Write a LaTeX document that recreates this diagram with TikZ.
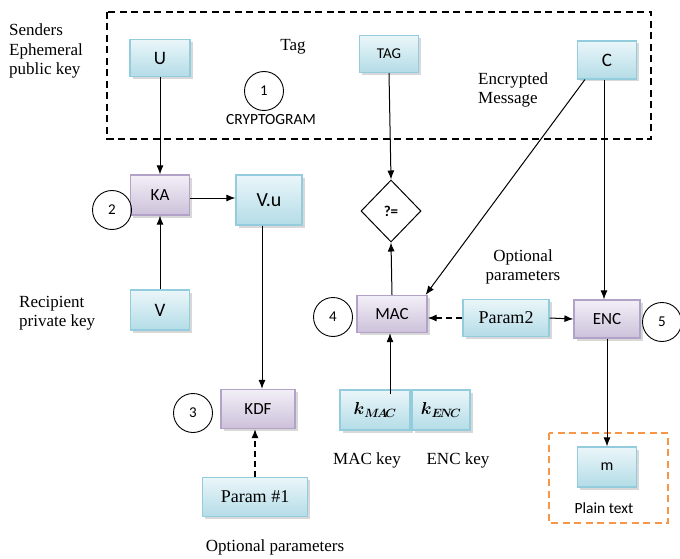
\documentclass[tikz,border=0pt]{standalone}
\usepackage{amsmath}
\usepackage{fontspec}
\setmainfont{Liberation Serif}
\newfontfamily\boxfont{Carlito}
\usetikzlibrary{arrows.meta,shapes.geometric,shadows,calc}
\definecolor{bluetop}{HTML}{EAF6F9}
\definecolor{bluebot}{HTML}{B4DCE7}
\definecolor{blueline}{HTML}{93CDDD}
\definecolor{purtop}{HTML}{F3EFF7}
\definecolor{purbot}{HTML}{CCC1DA}
\definecolor{purline}{HTML}{B3A2C7}
\definecolor{orangeline}{HTML}{F79646}
\tikzset{
  bbox/.style={draw=blueline, line width=1.2pt, top color=bluetop, bottom color=bluebot,
    drop shadow={shadow xshift=2.5pt, shadow yshift=-2.5pt, fill=black!30},
    font=\boxfont\fontsize{17}{19}\selectfont, inner sep=0pt},
  pbox/.style={draw=purline, line width=1.2pt, top color=purtop, bottom color=purbot,
    drop shadow={shadow xshift=2.5pt, shadow yshift=-2.5pt, fill=black!30},
    font=\boxfont\fontsize{17}{19}\selectfont, inner sep=0pt},
  num/.style={draw, circle, line width=0.9pt, minimum size=39pt, inner sep=0pt,
    font=\boxfont\fontsize{15}{17}\selectfont},
  lbl/.style={font=\fontsize{17}{19.5}\selectfont, inner sep=0pt},
  slbl/.style={font=\boxfont\fontsize{15.5}{18}\selectfont, inner sep=0pt},
  arr/.style={line width=1pt, -{Latex[length=9pt,width=7pt]}},
  darr/.style={line width=1.2pt, dash pattern=on 6pt off 4pt, -{Latex[length=9pt,width=7pt]}},
}
\begin{document}
\begin{tikzpicture}[x=1pt,y=-1pt]
\useasboundingbox (0,0) rectangle (680,559);
% dashed boxes
\draw[line width=1.4pt, dash pattern=on 7pt off 4.5pt] (107,12) rectangle (651,139);
\draw[orangeline, line width=1.4pt, dash pattern=on 7pt off 4.5pt] (549,433) rectangle (668,523);
% boxes
\node[bbox, minimum width=60pt, minimum height=37pt, font=\boxfont\fontsize{19}{21}\selectfont] (U) at (160,58) {U};
\node[bbox, minimum width=59pt, minimum height=37pt, font=\boxfont\fontsize{15}{17}\selectfont] (TAG) at (389,54) {TAG};
\node[bbox, minimum width=59pt, minimum height=38pt, font=\boxfont\fontsize{19}{21}\selectfont] (C) at (607,60) {C};
\node[pbox, minimum width=59pt, minimum height=40pt] (KA) at (160,195) {KA};
\node[bbox, minimum width=66pt, minimum height=50pt, font=\boxfont\fontsize{20}{22}\selectfont] (Vu) at (269,200) {V.u};
\node[bbox, minimum width=59pt, minimum height=40pt, font=\boxfont\fontsize{19}{21}\selectfont] (V) at (160,310) {V};
\node[draw, diamond, line width=1pt, minimum width=60pt, minimum height=62pt, inner sep=0pt,
  font=\boxfont\bfseries\fontsize{15}{17}\selectfont] (EQ) at (391,211) {?=};
\node[pbox, minimum width=70pt, minimum height=37pt] (MAC) at (392,314) {MAC};
\node[bbox, minimum width=86pt, minimum height=37pt, font=\fontsize{18}{20}\selectfont] (P2) at (506,318) {Param2};
\node[pbox, minimum width=66pt, minimum height=38pt] (ENC) at (607,319) {ENC};
\node[pbox, minimum width=74pt, minimum height=39pt] (KDF) at (258,409) {KDF};
\node[bbox, minimum width=70pt, minimum height=40pt, font=\fontsize{17}{19}\selectfont] (KM) at (375,410) {$\boldsymbol{k}_{\boldsymbol{M\!A\!C}}$};
\node[bbox, minimum width=58pt, minimum height=40pt, font=\fontsize{17}{19}\selectfont] (KE) at (441,410) {$\boldsymbol{k}_{\boldsymbol{E\!N\!C}}$};
\node[bbox, minimum width=105pt, minimum height=39pt, font=\fontsize{18}{20}\selectfont] (P1) at (255,497) {Param \#1};
\node[bbox, minimum width=59pt, minimum height=40pt, font=\boxfont\fontsize{16}{18}\selectfont] (M) at (607,467) {m};
% numbered circles
\node[num] (n1) at (264,91) {1};
\node[num] (n2) at (112,210) {2};
\node[num] (n3) at (193,413) {3};
\node[num] (n4) at (333,317) {4};
\node[num] (n5) at (662,322) {5};
% labels
\node[lbl, align=left, anchor=north west] (ls) at (9,24) {Senders\\Ephemeral\\public key};
\node[lbl] (ltag) at (293,47) {Tag};
\node[slbl] (lcr) at (271,120) {CRYPTOGRAM};
\node[lbl, align=left, anchor=west] (lenc) at (478,90) {Encrypted\\Message};
\node[lbl, align=left, anchor=west] (lrec) at (19,313) {Recipient\\private key};
\node[lbl, align=center] (lopt2) at (523,267) {Optional\\parameters};
\node[lbl] (lmk) at (367,460) {MAC key};
\node[lbl] (lek) at (458,460) {ENC key};
\node[lbl] (lopt1) at (275,547) {Optional parameters};
\node[slbl] (lpt) at (604,508) {Plain text};
% connectors
\draw[arr] (U.south) -- (KA.north);
\draw[arr] ([yshift=-3pt]KA.east) -- ([yshift=-3pt]KA.east -| Vu.west);
\draw[arr] (V.north) -- (KA.south);
\draw[arr] ([xshift=-7pt]Vu.south) -- ([xshift=-7pt]Vu.south |- KDF.north);
\draw[darr] (P1.north) -- (P1.north |- KDF.south);
\draw[arr] (TAG.south) -- (EQ.north);
\draw[arr] (MAC.north) -- (EQ.south);
\coordinate (kstart) at ($(KM.north -| MAC.south)+(-2,5)$);
\draw[arr] (kstart) -- (kstart |- MAC.south);
\draw[arr] ([xshift=8pt]C.south west) -- ([xshift=-2pt]MAC.north east);
\draw[arr] ([xshift=-3pt]C.south) -- ([xshift=-3pt]C.south |- ENC.north);
\draw[darr] (P2.west) -- (P2.west -| MAC.east);
\draw[arr] (P2.east) -- (ENC.west);
\draw[arr] (ENC.south) -- (M.north);
\end{tikzpicture}
\end{document}
